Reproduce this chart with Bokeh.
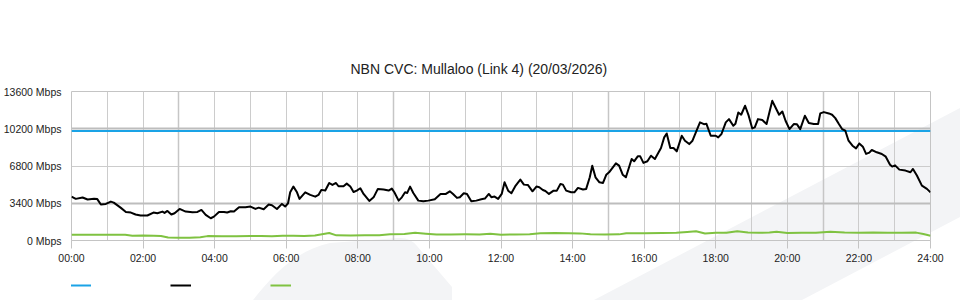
from urllib.parse import quote
from bokeh.plotting import figure
from bokeh.layouts import column
from bokeh.models import (Range1d, FixedTicker, Grid, Legend, LegendItem)
from bokeh.embed import file_html
from bokeh.resources import INLINE

# ---------------- data ----------------
title_text = "NBN CVC: Mullaloo (Link 4) (20/03/2026)"
x_tick_hours = [0, 2, 4, 6, 8, 10, 12, 14, 16, 18, 20, 22, 24]
x_tick_labels = ["00:00", "02:00", "04:00", "06:00", "08:00", "10:00", "12:00",
                 "14:00", "16:00", "18:00", "20:00", "22:00", "24:00"]
y_ticks = [0, 3400, 6800, 10200, 13600]
y_tick_labels = ["0 Mbps", "3400 Mbps", "6800 Mbps", "10200 Mbps", "13600 Mbps"]
grid_hours = list(range(0, 25))
strong_grid_hours = [3, 9, 15, 21]
strong_grid_values = [3400, 10200]

capacity_t = [0, 24]
capacity_v = [10000, 10000]

traffic_t = [0.00, 0.12, 0.31, 0.45, 0.63, 0.72, 0.82, 0.96, 1.10, 1.18, 1.38, 1.52, 1.66, 1.79,
             1.93, 2.12, 2.29, 2.40, 2.54, 2.60, 2.68, 2.79, 2.88, 3.02, 3.19, 3.38, 3.52, 3.63,
             3.75, 3.89, 3.98, 4.12, 4.26, 4.35, 4.45, 4.54, 4.68, 4.86, 5.00, 5.14, 5.23, 5.37,
             5.51, 5.60, 5.74, 5.88, 5.97, 6.05, 6.11, 6.20, 6.30, 6.37, 6.53, 6.67, 6.81, 6.90,
             6.98, 7.09, 7.20, 7.29, 7.39, 7.46, 7.60, 7.69, 7.79, 7.88, 7.97, 8.07, 8.16, 8.32,
             8.44, 8.56, 8.72, 8.86, 8.95, 9.02, 9.14, 9.23, 9.32, 9.38, 9.46, 9.55, 9.69, 9.83,
             9.97, 10.15, 10.31, 10.46, 10.57, 10.66, 10.77, 10.85, 10.96, 11.05, 11.17, 11.31,
             11.45, 11.55, 11.66, 11.73, 11.82, 11.92, 12.02, 12.10, 12.20, 12.29, 12.41, 12.54,
             12.64, 12.75, 12.88, 12.99, 13.07, 13.17, 13.24, 13.34, 13.47, 13.56, 13.66, 13.73,
             13.82, 13.96, 14.05, 14.15, 14.29, 14.38, 14.48, 14.55, 14.64, 14.75, 14.85, 14.94,
             15.02, 15.21, 15.30, 15.40, 15.49, 15.65, 15.72, 15.82, 15.89, 15.98, 16.09, 16.19,
             16.30, 16.47, 16.56, 16.63, 16.73, 16.82, 16.91, 17.05, 17.14, 17.26, 17.35, 17.49,
             17.56, 17.67, 17.74, 17.86, 18.00, 18.07, 18.16, 18.28, 18.37, 18.49, 18.55, 18.63,
             18.71, 18.82, 18.92, 19.02, 19.09, 19.18, 19.30, 19.42, 19.51, 19.58, 19.67, 19.77,
             19.86, 19.95, 20.06, 20.18, 20.27, 20.36, 20.49, 20.60, 20.74, 20.86, 20.92, 21.02,
             21.16, 21.25, 21.34, 21.44, 21.53, 21.62, 21.71, 21.82, 21.92, 22.01, 22.11, 22.20,
             22.29, 22.36, 22.50, 22.64, 22.75, 22.87, 22.93, 23.01, 23.13, 23.30, 23.44, 23.51,
             23.62, 23.76, 23.90, 24.00]
traffic_v = [4000, 3800, 3920, 3740, 3800, 3780, 3280, 3340, 3550, 3460, 2980, 2610, 2550, 2370,
             2280, 2280, 2550, 2490, 2640, 2520, 2700, 2370, 2490, 2880, 2640, 2580, 2610, 2790,
             2340, 2030, 2180, 2610, 2610, 2550, 2670, 2640, 3040, 3040, 3100, 2880, 3000, 2850,
             3280, 3220, 2880, 3340, 3100, 3400, 4400, 4920, 4400, 3800, 4400, 4160, 4000, 4160,
             4620, 4560, 5250, 5070, 5250, 4950, 4950, 5190, 4920, 4430, 4560, 4770, 4250, 3610,
             3940, 4710, 4650, 4560, 4740, 4400, 3640, 3940, 4400, 4340, 4920, 4340, 3640, 3580,
             3640, 3770, 4250, 4250, 4490, 4250, 3890, 3950, 4310, 4250, 3580, 3640,
             3770, 3830, 4250, 3950, 4010, 3800, 4250, 5310, 4550, 4310, 5010, 5560,
             5100, 5070, 4490, 4920, 4860, 4610, 4520, 4250, 4550, 4550, 5160, 5100,
             4550, 4400, 4400, 4800, 4650, 4710, 5770, 6830, 5770, 5310, 5250, 6000,
             6220, 7040, 6830, 6010, 5770, 7440, 7230, 7680, 7680, 7080, 7230, 7740,
             7440, 8440, 9410, 9770, 8440, 8440, 8140, 9560, 9110, 8800, 9110, 10230,
             10780, 10620, 10650, 9560, 9560, 9410, 9720, 10780, 11080, 10470, 10650, 11690,
             11480, 12300, 11390, 10230, 10320, 11080, 10990, 10630, 11840, 12750, 12140, 11480,
             11780, 10930, 10170, 10630, 10600, 10170, 11390, 10720, 10630, 10630, 11600, 11720,
             11600, 11480, 11170, 10630, 10170, 10020, 9110, 8650, 8410, 8860, 8560, 7900,
             8020, 8260, 8050, 7900, 7650, 6920, 6750, 6860, 6470, 6380, 6230, 6530,
             5930, 5010, 4710, 4400]

upload_t = [0.0, 0.5, 1.0, 1.5, 1.7, 2.0, 2.3, 2.5, 2.7, 3.0, 3.3, 3.6, 3.8, 4.2, 4.6, 5.0,
            5.3, 5.6, 5.9, 6.2, 6.5, 6.8, 7.2, 7.4, 7.8, 8.2, 8.6, 8.9, 9.3, 9.6, 9.9, 10.2,
            10.6, 11.0, 11.4, 11.7, 12.0, 12.4, 12.8, 13.1, 13.5, 13.9, 14.2, 14.5, 14.9, 15.3,
            15.5, 16.0, 16.5, 16.9, 17.2, 17.45, 17.7, 18.0, 18.3, 18.6, 18.9, 19.2, 19.5, 19.7,
            20.0, 20.4, 20.8, 21.2, 21.6, 22.0, 22.4, 22.8, 23.2, 23.6, 23.8, 24.0]
upload_v = [520, 520, 530, 520, 430, 460, 430, 420, 280, 260, 250, 290, 400, 380, 390, 400,
            420, 380, 440, 430, 420, 450, 680, 470, 460, 470, 480, 560, 600, 700, 610, 540,
            550, 560, 550, 620, 530, 550, 560, 660, 680, 660, 650, 560, 550, 560,
            660, 670, 680, 700, 770, 840, 640, 710, 700, 840, 720, 700, 720, 790,
            690, 700, 700, 800, 720, 700, 740, 700, 710, 720, 600, 430]

# ---------------- styles ----------------
FONT = "Liberation Sans"
BLUE = "#1aa3e6"
BLACK = "#000000"
GREEN = "#7fc241"
GRID = "#cccccc"
STRONG_H = "#bdbdbd"
STRONG_V = "#c6c6c6"
WATERMARK = "#f3f4f6"

p = figure(width=960, height=270, output_backend="svg", toolbar_location=None,
           x_range=Range1d(0, 24), y_range=Range1d(0, 13600),
           min_border_left=70, min_border_right=30, min_border_top=91, min_border_bottom=30)
p.border_fill_color = None
p.background_fill_color = None
p.outline_line_color = "#c4c4c4"
p.outline_line_width = 1

p.title.text = title_text
p.title.align = "left"
p.title.vertical_align = "bottom"
p.title.offset = 279
p.title.text_font = FONT
p.title.text_font_size = "14px"
p.title.text_font_style = "normal"
p.title.text_color = "#222222"
p.title.standoff = 30

# axes
xa = p.xaxis[0]
xa.ticker = FixedTicker(ticks=x_tick_hours)
xa.major_label_overrides = {h: lab for h, lab in zip(x_tick_hours, x_tick_labels)}
xa.minor_tick_line_color = None
xa.major_tick_in = 0
xa.major_tick_out = 8
xa.major_tick_line_color = "#c4c4c4"
xa.axis_line_color = "#c4c4c4"
xa.major_label_standoff = 3
xa.major_label_text_font = FONT
xa.major_label_text_font_size = "10.5px"
xa.major_label_text_color = "#222222"

ya = p.yaxis[0]
ya.ticker = FixedTicker(ticks=y_ticks)
ya.major_label_overrides = {v: lab for v, lab in zip(y_ticks, y_tick_labels)}
ya.minor_tick_line_color = None
ya.major_tick_in = 0
ya.major_tick_out = 0
ya.major_tick_line_color = None
ya.axis_line_color = None
ya.major_label_standoff = 10
ya.major_label_text_font = FONT
ya.major_label_text_font_size = "10.5px"
ya.major_label_text_color = "#222222"
ya.major_label_text_baseline = "alphabetic"

# grids
p.xgrid.ticker = FixedTicker(ticks=grid_hours)
p.xgrid.grid_line_color = GRID
p.ygrid.grid_line_color = GRID
p.add_layout(Grid(dimension=0, ticker=FixedTicker(ticks=strong_grid_hours),
                  grid_line_color=STRONG_V, grid_line_width=1.5))
p.add_layout(Grid(dimension=1, ticker=FixedTicker(ticks=strong_grid_values),
                  grid_line_color=STRONG_H, grid_line_width=2))

# series
series = [(capacity_t, capacity_v, BLUE), (traffic_t, traffic_v, BLACK), (upload_t, upload_v, GREEN)]
for t, v, c in series:
    p.line(t, v, line_color=c, line_width=2, line_join="round")

# legend strip (unlabelled swatches, as in the original)
lg = figure(width=960, height=30, output_backend="svg", toolbar_location=None,
            x_range=Range1d(0, 24), y_range=Range1d(-2, -1),
            x_axis_type=None, y_axis_type=None,
            min_border_left=0, min_border_right=0, min_border_top=0, min_border_bottom=0)
lg.border_fill_color = None
lg.background_fill_color = None
lg.outline_line_color = None
items = []
for t, v, c in series:
    r = lg.line(t, v, line_color=c, line_width=2)
    items.append(LegendItem(label=" ", renderers=[r]))
legend = Legend(items=items, orientation="horizontal", location=(-1, 10),
                glyph_width=21, glyph_height=10, label_height=10,
                label_standoff=0, label_width=79, spacing=0, padding=0, margin=0,
                border_line_color=None, background_fill_alpha=0,
                label_text_font_size="2px")
lg.add_layout(legend)

layout = column(p, lg, spacing=0)
svg_bg = ("<svg xmlns='http://www.w3.org/2000/svg' width='960' height='300'>"
          f"<path d='M594 300 L960 108 L960 217 L802 300 Z' fill='{WATERMARK}'/>"
          f"<path d='M253 300 C275 272 298 250 330 243 L398 238 Q410 237 417 246 L452 287 L452 300 Z' fill='{WATERMARK}'/>"
          "</svg>")
layout.styles = {"background-image": f'url("data:image/svg+xml,{quote(svg_bg)}")',
                 "background-repeat": "no-repeat"}

open("out.html", "w").write(file_html(layout, INLINE))
